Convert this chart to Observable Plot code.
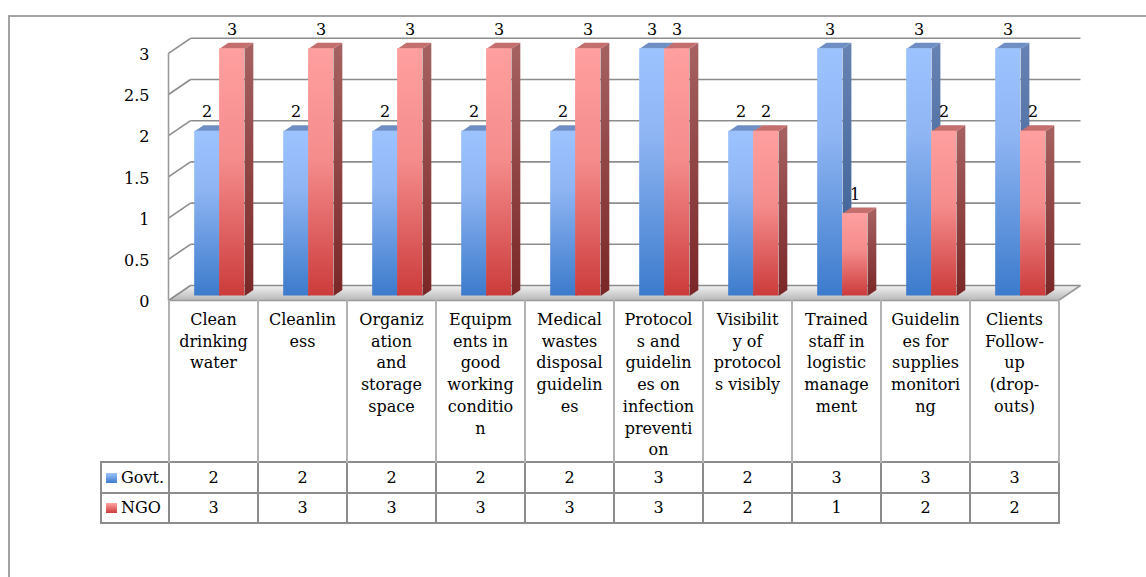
<!DOCTYPE html>
<html>
<head>
<meta charset="utf-8">
<script src="https://cdn.jsdelivr.net/npm/d3@7"></script>
<script src="https://cdn.jsdelivr.net/npm/@observablehq/plot@0.6"></script>
<style>
  body { margin: 0; background: #fff; font-family: "DejaVu Serif", serif; color: #000; }
  #wrap { position: relative; width: 1146px; height: 577px; overflow: hidden; }
  #frame { position: absolute; left: 8px; top: 15px; width: 1300px; height: 800px;
           border-left: 2px solid #a3a3a3; border-top: 2px solid #a3a3a3; }
  #chart { position: absolute; left: 0; top: 0; }
  #datatable { position: absolute; left: 100px; top: 300px; border-collapse: collapse;
               table-layout: fixed; width: 958px; }
  #datatable td, #datatable th { padding: 0; text-align: center; font-weight: normal; }
  #datatable tr.head td { height: 150px; vertical-align: top; font-size: 16px; line-height: 21.7px;
                          padding-top: 9px; border-left: 2px solid #b3b3b3; border-right: 2px solid #b3b3b3; }
  #datatable tr.head td.blank { border: none; }
  #datatable tr.vals td, #datatable tr.vals th { border: 2.5px solid #8c8c8c; font-size: 16px; }
  #datatable tr.vals th { text-align: left; padding-left: 4px; white-space: nowrap; }
  .sw { display: inline-block; width: 11px; height: 10px; margin-right: 4px; vertical-align: 0px; }
</style>
</head>
<body>
<div id="wrap">
  <div id="frame"></div>
  <div id="chart"></div>
  <table id="datatable"></table>
</div>
<script>
// Facility indicators and the scores for each type of provider
const categories = [
  "Clean drinking water",
  "Cleanliness",
  "Organization and storage space",
  "Equipments in good working condition",
  "Medical wastes disposal guidelines",
  "Protocols and guidelines on infection prevention",
  "Visibility of protocols visibly",
  "Trained staff in logistic management",
  "Guidelines for supplies monitoring",
  "Clients Follow-up (drop-outs)"
];
// category names as they wrap in the table header cells
const categoryLines = [
  ["Clean", "drinking", "water"],
  ["Cleanlin", "ess"],
  ["Organiz", "ation", "and", "storage", "space"],
  ["Equipm", "ents in", "good", "working", "conditio", "n"],
  ["Medical", "wastes", "disposal", "guidelin", "es"],
  ["Protocol", "s and", "guidelin", "es on", "infection", "preventi", "on"],
  ["Visibilit", "y of", "protocol", "s visibly"],
  ["Trained", "staff in", "logistic", "manage", "ment"],
  ["Guidelin", "es for", "supplies", "monitori", "ng"],
  ["Clients", "Follow-", "up", "(drop-", "outs)"]
];
const seriesNames = ["Govt.", "NGO"];
const govt = [2, 2, 2, 2, 2, 3, 2, 3, 3, 3];
const ngo  = [3, 3, 3, 3, 3, 3, 2, 1, 2, 2];
const yTicks = [0, 0.5, 1, 1.5, 2, 2.5, 3];

// Oblique projection of the 3-D box: depth z runs 0 (front) to 1 (back wall)
const KX = 22 / 89, KY = 15 / 82.4;
const P = (x, v, z) => ({x: x + z * KX, y: v + z * KY});
const n = categories.length;
const yMax = 3;
const W = 0.28, Z0 = 0.3, Z1 = 0.7;

const seriesValues = [govt, ngo];
const bars = [];
seriesValues.forEach((vals, s) => {
  vals.forEach((v, i) => {
    const x0 = i + 0.5 - W + s * W, x1 = x0 + W;
    bars.push({s, i, v, x0, x1});
  });
});
const barsOf = s => bars.filter(b => b.s === s);
const topFaces = s => barsOf(s).flatMap(b =>
  [P(b.x0, b.v, Z0), P(b.x1, b.v, Z0), P(b.x1, b.v, Z1), P(b.x0, b.v, Z1)].map(p => ({...p, id: b.i})));
const sideFaces = s => barsOf(s).flatMap(b =>
  [P(b.x1, 0, Z0), P(b.x1, b.v, Z0), P(b.x1, b.v, Z1), P(b.x1, 0, Z1)].map(p => ({...p, id: b.i})));
const frontOf = s => barsOf(s).map(b => ({
  x1: b.x0 + Z0 * KX, x2: b.x1 + Z0 * KX, y1: Z0 * KY, y2: b.v + Z0 * KY,
  cx: (b.x0 + b.x1) / 2 + Z0 * KX, v: b.v
}));

const backGrid = yTicks.map(t => ({a: P(0, t, 1), b: P(n, t, 1)}));
const sideGrid = yTicks.map(t => ({a: P(0, t, 0), b: P(0, t, 1)}));
const floor = [P(0, 0, 0), P(n, 0, 0), P(n, 0, 1), P(0, 0, 1)];
const edges = [
  {a: P(0, 0, 0), b: P(0, yMax, 0)},
  {a: P(0, 0, 0), b: P(n, 0, 0)},
  {a: P(n, 0, 0), b: P(n, 0, 1)}
];

const gridStyle = {x1: d => d.a.x, y1: d => d.a.y, x2: d => d.b.x, y2: d => d.b.y,
                   stroke: "#8c8c8c", strokeWidth: 1.6};

const fills = [
  {front: "url(#govtFront)", side: "url(#govtSide)", top: "#6f8fc4"},
  {front: "url(#ngoFront)", side: "url(#ngoSide)", top: "#c56e6e"}
];
const barMarks = [0, 1].flatMap(s => [
  Plot.line(sideFaces(s), {x: "x", y: "y", z: "id", fill: fills[s].side, stroke: "none", curve: "linear-closed"}),
  Plot.line(topFaces(s), {x: "x", y: "y", z: "id", fill: fills[s].top, stroke: "none", curve: "linear-closed"}),
  Plot.rect(frontOf(s), {x1: "x1", x2: "x2", y1: "y1", y2: "y2", fill: fills[s].front})
]);
const labelMarks = [0, 1].map(s =>
  Plot.text(frontOf(s), {x: "cx", y: "y2", text: d => String(d.v), dy: -19, fontSize: 16, fill: "#000"}));

const chart = Plot.plot({
  width: 1146,
  height: 302,
  marginLeft: 168,
  marginRight: 88,
  marginTop: 0,
  marginBottom: 2,
  style: {fontFamily: "DejaVu Serif", fontSize: "16px", color: "#000", background: "transparent", overflow: "visible"},
  x: {domain: [0, n], range: [168, 1058], axis: null},
  y: {domain: [0, yMax], range: [300, 52.8]},
  marks: [
    Plot.line(floor, {x: "x", y: "y", fill: "url(#floorFill)", stroke: "none", curve: "linear-closed"}),
    Plot.link(backGrid, gridStyle),
    Plot.link(sideGrid, gridStyle),
    Plot.link(edges, {...gridStyle, stroke: "#9a9a9a"}),
    ...barMarks,
    ...labelMarks,
    Plot.axisY({ticks: yTicks, tickSize: 0, tickPadding: 19, tickFormat: d => String(d), label: null, fontSize: 16, dy: 1.5})
  ]
});

// shading gradients used by the column faces and the floor
const defs = d3.select(chart).insert("defs", ":first-child");
function grad(id, stops) {
  const g = defs.append("linearGradient").attr("id", id).attr("x1", 0).attr("y1", 0).attr("x2", 0).attr("y2", 1);
  stops.forEach(([o, c]) => g.append("stop").attr("offset", o).attr("stop-color", c));
}
grad("govtFront", [[0, "#9dc3ff"], [0.35, "#8fb5f3"], [1, "#3c7bcc"]]);
grad("govtSide", [[0, "#6783b3"], [1, "#355a8f"]]);
grad("ngoFront", [[0, "#ff9f9f"], [0.45, "#f58c8c"], [1, "#cc3b3b"]]);
grad("ngoSide", [[0, "#a66262"], [1, "#7a2626"]]);
grad("floorFill", [[0, "#f2f2f2"], [0.5, "#d4d4d4"], [1, "#b8b8b8"]]);
document.getElementById("chart").appendChild(chart);

// data table under the plot: category header row, then one row per series
const table = d3.select("#datatable");
const cg = table.append("colgroup");
cg.append("col").style("width", "68px");
categories.forEach(() => cg.append("col").style("width", "89px"));
const head = table.append("tr").attr("class", "head");
head.append("td").attr("class", "blank");
categoryLines.forEach(lines => head.append("td").html(lines.join("<br>")));
const swatches = ["linear-gradient(#9dc3ff, #3c7bcc)", "linear-gradient(#ffa3a3, #cc3b3b)"];
const rowHeights = [31, 30];
seriesValues.forEach((vals, s) => {
  const tr = table.append("tr").attr("class", "vals").style("height", rowHeights[s] + "px");
  const th = tr.append("th");
  th.append("span").attr("class", "sw").style("background", swatches[s]);
  th.append("span").text(seriesNames[s]);
  vals.forEach(v => tr.append("td").text(v));
});
</script>
</body>
</html>
